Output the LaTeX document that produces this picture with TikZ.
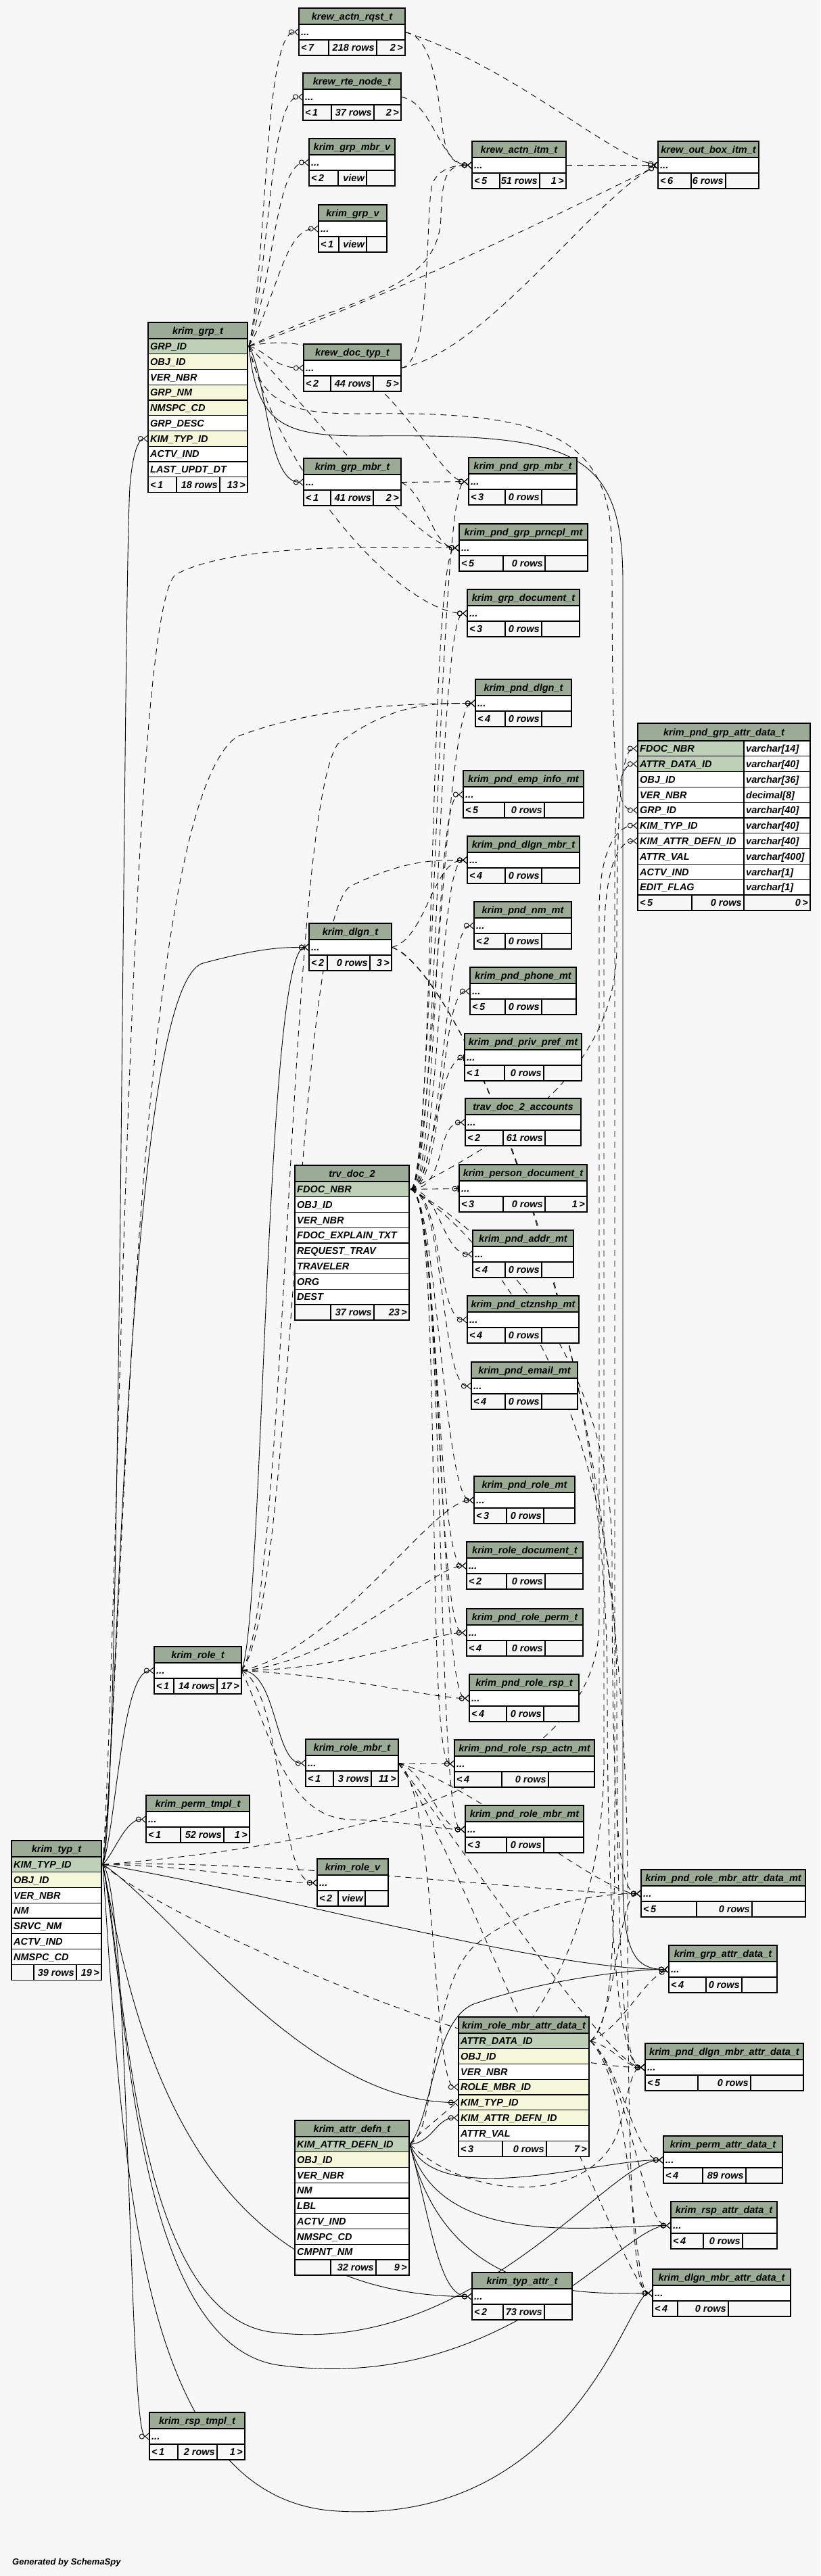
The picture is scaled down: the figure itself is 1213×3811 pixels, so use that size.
\documentclass[tikz,border=0pt]{standalone}
\usepackage{fontspec}
\setmainfont{Liberation Sans}
\usetikzlibrary{arrows.meta}
\definecolor{bgc}{HTML}{F7F7F7}
\definecolor{hdr}{HTML}{9BAB96}
\definecolor{pkc}{HTML}{BED1B8}
\definecolor{idx}{HTML}{F4F7DA}
\pgfdeclarelayer{bglayer}
\pgfdeclarelayer{edgelayer}
\pgfsetlayers{bglayer,edgelayer,main}
\newcommand\tabfont{\fontsize{14.5}{16}\selectfont\bfseries\itshape}
\tikzset{
 box/.style={line width=1.1pt},
 cell/.style={font=\tabfont, inner sep=0pt, text height=10.5pt, text depth=0pt},
 dep/.style={line width=0.9pt, dash pattern=on 9pt off 7pt, -{Circle[open,length=8pt,width=8pt]Straight Barb[reversed,length=6pt,width=10pt]}},
 fk/.style={line width=0.9pt, -{Circle[open,length=8pt,width=8pt]Straight Barb[reversed,length=6pt,width=10pt]}},
 depone/.style={line width=0.9pt, dash pattern=on 9pt off 7pt, -{Circle[open,length=8pt,width=8pt]Bar[width=10pt,line width=2.5pt]}},
}
% simple table: name x1 y1 x2 title
\newcommand\stab[5]{%
 \fill[hdr] (#2,#3) rectangle (#4,#3+24);
 \fill[white] (#2,#3+24) rectangle (#4,#3+47);
 \fill[bgc] (#2,#3+47) rectangle (#4,#3+70);
 \draw[box] (#2,#3+24) -- (#4,#3+24) (#2,#3+47) -- (#4,#3+47);
 \draw[box] (#2,#3) rectangle (#4,#3+70);
 \node[cell] (#1) at ({(#2+#4)/2},#3+12) {#5};
 \node[cell,anchor=west] (#1-dots) at (#2+3,#3+35.5) {...};
 \coordinate (#1-in) at (#2,#3+35.5);
 \coordinate (#1-out) at (#4,#3+35.5);
 \gdef\curx{#2}\gdef\cury{#3}\gdef\curxx{#4}}
% footer: name d1 d2 L M R
\newcommand\sfoot[6]{%
 \draw[box] (#2,\cury+47) -- (#2,\cury+70) (#3,\cury+47) -- (#3,\cury+70);
 \node[cell,anchor=west] (#1-fl) at (\curx+3,\cury+58.5) {#4};
 \node[cell,anchor=east] (#1-fm) at (#3-3,\cury+58.5) {#5};
 \node[cell,anchor=east] (#1-fr) at (\curxx-3,\cury+58.5) {#6};}
% detailed table: name x1 y1 x2 n title rows
\newcommand\dtab[7]{%
 \pgfmathsetmacro\curfy{#3+24+#5*22.75}
 \fill[hdr] (#2,#3) rectangle (#4,#3+24);
 \fill[bgc] (#2,\curfy) rectangle (#4,\curfy+23);
 \foreach \cf/\tx [count=\ri] in {#7} {
   \fill[fill=\cf] (#2,{#3+24+(\ri-1)*22.75}) rectangle (#4,{#3+24+\ri*22.75});
   \node[cell,anchor=west] (#1-r\ri) at (#2+3,{#3+24+(\ri-0.5)*22.75}) {\tx};
 }
 \foreach \ri in {1,...,#5} {\draw[box] (#2,{#3+24+(\ri-1)*22.75}) -- (#4,{#3+24+(\ri-1)*22.75});}
 \draw[box] (#2,\curfy) -- (#4,\curfy);
 \draw[box] (#2,#3) rectangle (#4,\curfy+23);
 \node[cell] (#1) at ({(#2+#4)/2},#3+12) {#6};
 \pgfmathsetmacro\cury{\curfy-47}
 \gdef\curx{#2}\gdef\curxx{#4}}
\begin{document}
\begin{tikzpicture}[x=1pt,y=-1pt]
\begin{pgfonlayer}{bglayer}
\fill[bgc] (0,0) rectangle (1213,3811);
\end{pgfonlayer}
\useasboundingbox (0,0) rectangle (1213,3811);

% ---------- simple tables ----------
\stab{krewRqst}{442}{12}{599}{krew\_actn\_rqst\_t}\sfoot{krewRqst}{486}{557}{<\,7}{218 rows}{2\,>}
\stab{krewRte}{448}{108}{593}{krew\_rte\_node\_t}\sfoot{krewRte}{490}{553}{<\,1}{37 rows}{2\,>}
\stab{grpMbrV}{457}{205}{584}{krim\_grp\_mbr\_v}\sfoot{grpMbrV}{500}{542}{<\,2}{view}{}
\stab{grpV}{471}{303}{572}{krim\_grp\_v}\sfoot{grpV}{501}{542}{<\,1}{view}{}
\stab{docTyp}{449}{509}{593}{krew\_doc\_typ\_t}\sfoot{docTyp}{489}{552}{<\,2}{44 rows}{5\,>}
\stab{grpMbr}{449}{678}{593}{krim\_grp\_mbr\_t}\sfoot{grpMbr}{489}{552}{<\,1}{41 rows}{2\,>}
\stab{actnItm}{698}{209}{837}{krew\_actn\_itm\_t}\sfoot{actnItm}{739}{798}{<\,5}{51 rows}{1\,>}
\stab{outBox}{973}{209}{1122}{krew\_out\_box\_itm\_t}\sfoot{outBox}{1022}{1073}{<\,6}{6 rows}{}
\stab{pGrpMbr}{693}{677}{853}{krim\_pnd\_grp\_mbr\_t}\sfoot{pGrpMbr}{747}{801}{<\,3}{0 rows}{}
\stab{pGrpPrn}{679}{775}{869}{krim\_pnd\_grp\_prncpl\_mt}\sfoot{pGrpPrn}{744}{806}{<\,5}{0 rows}{}
\stab{grpDoc}{691}{872}{857}{krim\_grp\_document\_t}\sfoot{grpDoc}{747}{801}{<\,3}{0 rows}{}
\stab{pDlgn}{703}{1005}{845}{krim\_pnd\_dlgn\_t}\sfoot{pDlgn}{747}{801}{<\,4}{0 rows}{}
\stab{pEmp}{685}{1140}{863}{krim\_pnd\_emp\_info\_mt}\sfoot{pEmp}{746}{805}{<\,5}{0 rows}{}
\stab{pDlgnMbr}{691}{1237}{857}{krim\_pnd\_dlgn\_mbr\_t}\sfoot{pDlgnMbr}{747}{801}{<\,4}{0 rows}{}
\stab{pNm}{701}{1334}{845}{krim\_pnd\_nm\_mt}\sfoot{pNm}{747}{801}{<\,2}{0 rows}{}
\stab{pPhone}{695}{1431}{852}{krim\_pnd\_phone\_mt}\sfoot{pPhone}{747}{801}{<\,5}{0 rows}{}
\stab{pPriv}{687}{1529}{860}{krim\_pnd\_priv\_pref\_mt}\sfoot{pPriv}{746}{804}{<\,1}{0 rows}{}
\stab{trvAcc}{688}{1625}{859}{trav\_doc\_2\_accounts}\sfoot{trvAcc}{744}{806}{<\,2}{61 rows}{}
\stab{persDoc}{679}{1723}{868}{krim\_person\_document\_t}\sfoot{persDoc}{744}{806}{<\,3}{0 rows}{1\,>}
\stab{pAddr}{699}{1820}{848}{krim\_pnd\_addr\_mt}\sfoot{pAddr}{747}{801}{<\,4}{0 rows}{}
\stab{pCtz}{691}{1917}{856}{krim\_pnd\_ctznshp\_mt}\sfoot{pCtz}{747}{801}{<\,4}{0 rows}{}
\stab{pEmail}{697}{2015}{854}{krim\_pnd\_email\_mt}\sfoot{pEmail}{747}{801}{<\,4}{0 rows}{}
\stab{pRole}{701}{2184}{850}{krim\_pnd\_role\_mt}\sfoot{pRole}{749}{804}{<\,3}{0 rows}{}
\stab{roleDoc}{690}{2281}{862}{krim\_role\_document\_t}\sfoot{roleDoc}{749}{806}{<\,2}{0 rows}{}
\stab{pRolePerm}{690}{2380}{862}{krim\_pnd\_role\_perm\_t}\sfoot{pRolePerm}{749}{806}{<\,4}{0 rows}{}
\stab{pRoleRsp}{694}{2477}{856}{krim\_pnd\_role\_rsp\_t}\sfoot{pRoleRsp}{749}{804}{<\,4}{0 rows}{}
\stab{pRspActn}{672}{2574}{879}{krim\_pnd\_role\_rsp\_actn\_mt}\sfoot{pRspActn}{742}{811}{<\,4}{0 rows}{}
\stab{pRoleMbr}{688}{2671}{863}{krim\_pnd\_role\_mbr\_mt}\sfoot{pRoleMbr}{749}{804}{<\,3}{0 rows}{}
\stab{dlgn}{457}{1366}{579}{krim\_dlgn\_t}\sfoot{dlgn}{484}{547}{<\,2}{0 rows}{3\,>}
\stab{role}{228}{2436}{357}{krim\_role\_t}\sfoot{role}{257}{321}{<\,1}{14 rows}{17\,>}
\stab{roleMbr}{452}{2573}{589}{krim\_role\_mbr\_t}\sfoot{roleMbr}{493}{549}{<\,1}{3 rows}{11\,>}
\stab{permTmpl}{216}{2656}{369}{krim\_perm\_tmpl\_t}\sfoot{permTmpl}{267}{331}{<\,1}{52 rows}{1\,>}
\stab{roleV}{469}{2750}{574}{krim\_role\_v}\sfoot{roleV}{500}{540}{<\,2}{view}{}
\stab{pRoleMbrAttr}{948}{2766}{1191}{krim\_pnd\_role\_mbr\_attr\_data\_mt}\sfoot{pRoleMbrAttr}{1030}{1112}{<\,5}{0 rows}{}
\stab{grpAttr}{989}{2878}{1149}{krim\_grp\_attr\_data\_t}\sfoot{grpAttr}{1044}{1097}{<\,4}{0 rows}{}
\stab{pDlgnMbrAttr}{954}{3023}{1188}{krim\_pnd\_dlgn\_mbr\_attr\_data\_t}\sfoot{pDlgnMbrAttr}{1032}{1110}{<\,5}{0 rows}{}
\stab{permAttr}{981}{3160}{1157}{krim\_perm\_attr\_data\_t}\sfoot{permAttr}{1039}{1103}{<\,4}{89 rows}{}
\stab{rspAttr}{992}{3257}{1149}{krim\_rsp\_attr\_data\_t}\sfoot{rspAttr}{1040}{1098}{<\,4}{0 rows}{}
\stab{typAttr}{698}{3362}{846}{krim\_typ\_attr\_t}\sfoot{typAttr}{744}{805}{<\,2}{73 rows}{}
\stab{dlgnMbrAttr}{965}{3357}{1169}{krim\_dlgn\_mbr\_attr\_data\_t}\sfoot{dlgnMbrAttr}{1002}{1077}{<\,4}{0 rows}{}
\stab{rspTmpl}{221}{3569}{362}{krim\_rsp\_tmpl\_t}\sfoot{rspTmpl}{263}{321}{<\,1}{2 rows}{1\,>}

% ---------- detailed tables ----------
\dtab{grp}{219}{477}{366}{9}{krim\_grp\_t}{pkc/GRP\_ID, idx/OBJ\_ID, white/VER\_NBR, idx/GRP\_NM, idx/NMSPC\_CD, white/GRP\_DESC, idx/KIM\_TYP\_ID, white/ACTV\_IND, white/LAST\_UPDT\_DT}
\sfoot{grp}{261}{325}{<\,1}{18 rows}{13\,>}
\dtab{trv}{436}{1724}{605}{8}{trv\_doc\_2}{pkc/FDOC\_NBR, white/OBJ\_ID, white/VER\_NBR, white/FDOC\_EXPLAIN\_TXT, white/REQUEST\_TRAV, white/TRAVELER, white/ORG, white/DEST}
\sfoot{trv}{489}{553}{}{37 rows}{23\,>}
\dtab{typ}{17}{2723}{150}{7}{krim\_typ\_t}{pkc/KIM\_TYP\_ID, idx/OBJ\_ID, white/VER\_NBR, white/NM, white/SRVC\_NM, white/ACTV\_IND, white/NMSPC\_CD}
\sfoot{typ}{50}{113}{}{39 rows}{19\,>}
\dtab{rmad}{678}{2984}{871}{7}{krim\_role\_mbr\_attr\_data\_t}{pkc/ATTR\_DATA\_ID, idx/OBJ\_ID, white/VER\_NBR, idx/ROLE\_MBR\_ID, idx/KIM\_TYP\_ID, idx/KIM\_ATTR\_DEFN\_ID, white/ATTR\_VAL}
\sfoot{rmad}{743}{808}{<\,3}{0 rows}{7\,>}
\dtab{adef}{436}{3137}{605}{8}{krim\_attr\_defn\_t}{pkc/KIM\_ATTR\_DEFN\_ID, idx/OBJ\_ID, white/VER\_NBR, white/NM, white/LBL, white/ACTV\_IND, white/NMSPC\_CD, white/CMPNT\_NM}
\sfoot{adef}{489}{556}{}{32 rows}{9\,>}

% ---------- focus table krim_pnd_grp_attr_data_t ----------
\fill[hdr] (943,1070) rectangle (1198,1096);
\fill[bgc] (943,1324) rectangle (1198,1347);
\foreach \cf/\tx/\ty [count=\ri] in {pkc/FDOC\_NBR/{varchar[14]}, pkc/ATTR\_DATA\_ID/{varchar[40]}, white/OBJ\_ID/{varchar[36]}, white/VER\_NBR/{decimal[8]}, white/GRP\_ID/{varchar[40]}, white/KIM\_TYP\_ID/{varchar[40]}, white/KIM\_ATTR\_DEFN\_ID/{varchar[40]}, white/ATTR\_VAL/{varchar[400]}, white/ACTV\_IND/{varchar[1]}, white/EDIT\_FLAG/{varchar[1]}} {
  \fill[fill=\cf] (943,{1096+(\ri-1)*22.8}) rectangle (1100,{1096+\ri*22.8});
  \fill[white] (1100,{1096+(\ri-1)*22.8}) rectangle (1198,{1096+\ri*22.8});
  \node[cell,anchor=west] (pgad-r\ri) at (946,{1096+(\ri-0.5)*22.8}) {\tx};
  \node[cell,anchor=west] (pgad-t\ri) at (1103,{1096+(\ri-0.5)*22.8}) {\ty};
}
\foreach \ri in {0,...,10} {\draw[box] (943,{1096+\ri*22.8}) -- (1198,{1096+\ri*22.8});}
\draw[box] (1100,1096) -- (1100,1347) (1023,1324) -- (1023,1347);
\draw[line width=2.6pt] (943,1070) rectangle (1198,1347);
\node[cell] (pgad) at (1070.5,1083) {krim\_pnd\_grp\_attr\_data\_t};
\node[cell,anchor=west] (pgad-fl) at (946,1335.5) {<\,5};
\node[cell,anchor=east] (pgad-fm) at (1097,1335.5) {0 rows};
\node[cell,anchor=east] (pgad-fr) at (1195,1335.5) {0\,>};

\node[font=\fontsize{13}{15}\selectfont\bfseries\itshape,anchor=west,inner sep=0pt] (gen) at (18,3791) {Generated by SchemaSpy};

% ---------- connector end points ----------
\coordinate (grpPK) at (368,512);
\coordinate (grpKT) at (219,648.9);
\coordinate (typPK) at (152,2758.4);
\coordinate (trvPK) at (607,1759.4);
\coordinate (adefPK) at (606,3172.4);
\coordinate (rmadPK) at (873,3019.4);
\coordinate (rmad-rm) at (678,3087.6);
\coordinate (rmad-kt) at (678,3110.4);
\coordinate (rmad-kad) at (678,3133.1);
\coordinate (pgad-fdoc) at (943,1107.4);
\coordinate (pgad-attr) at (943,1130.2);
\coordinate (pgad-grp) at (943,1198.6);
\coordinate (pgad-kt) at (943,1221.4);
\coordinate (pgad-kad) at (943,1244.2);

\begin{pgfonlayer}{edgelayer}
% krim_grp_t
\draw[dep] (grpPK) .. controls (396,380) and (390,47) .. (krewRqst-in);
\draw[dep] (grpPK) .. controls (400,390) and (398,143) .. (krewRte-in);
\draw[dep] (grpPK) .. controls (405,410) and (408,240) .. (grpMbrV-in);
\draw[dep] (grpPK) .. controls (410,440) and (420,338) .. (grpV-in);
\draw[dep] (grpPK) .. controls (395,520) and (405,544) .. (docTyp-in);
\draw[fk]  (grpPK) .. controls (395,560) and (395,713) .. (grpMbr-in);
\draw[dep] (grpPK) .. controls (520,440) and (650,430) .. (652,320) .. controls (654,260) and (660,244) .. (actnItm-in);
\draw[dep] (grpPK) .. controls (600,430) and (860,300) .. (outBox-in);
\draw[dep] (grpPK) .. controls (560,470) and (640,712) .. (pGrpMbr-in);
\draw[dep] (grpPK) .. controls (470,620) and (620,810) .. (pGrpPrn-in);
\draw[dep] (grpPK) .. controls (420,720) and (600,907) .. (grpDoc-in);
\draw[dep] (grpPK) .. controls (385,600) and (430,613) .. (540,612) .. controls (820,608) and (905,650) .. (905,820) .. controls (905,1150) and (910,1198.6) .. (pgad-grp);
\draw[fk]  (grpPK) .. controls (380,630) and (420,645) .. (540,645) .. controls (840,642) and (921,660) .. (921,860) -- (921,2780) .. controls (921,2890) and (940,2913.5) .. (grpAttr-in);
% krew
\draw[dep] (krewRqst-out) .. controls (650,55) and (648,180) .. (660,220) .. controls (668,240) and (680,244) .. (actnItm-in);
\draw[dep] (krewRqst-out) .. controls (760,100) and (900,230) .. (outBox-in);
\draw[dep] (krewRte-out) .. controls (640,150) and (650,244) .. (actnItm-in);
\draw[dep] (actnItm-out) -- (outBox-in);
\draw[dep] (docTyp-out) .. controls (720,520) and (880,290) .. (outBox-in);
\draw[dep] (docTyp-out) .. controls (640,540) and (628,300) .. (640,270) .. controls (650,250) and (670,244) .. (actnItm-in);
\draw[dep] (grpMbr-out) -- (pGrpMbr-in);
\draw[dep] (grpMbr-out) .. controls (630,730) and (640,810.5) .. (pGrpPrn-in);
% trv_doc_2
\foreach \tn/\cx in {pGrpMbr/640, pGrpPrn/643, grpDoc/646, pDlgn/636, pEmp/649, pDlgnMbr/652, pNm/655, pPhone/658, trvAcc/661, pAddr/650, pCtz/653, pEmail/656, pRole/645, roleDoc/648, pRolePerm/651, pRoleRsp/654, pRspActn/657, pRoleMbr/660}
  {\draw[dep] (trvPK) .. controls (\cx,1760) and ([xshift=-45pt]\tn-in) .. (\tn-in);}
\draw[depone] (trvPK) .. controls (640,1760) and (645,1564.5) .. (pPriv-in);
\draw[depone] (trvPK) -- (persDoc-in);
\draw[dep] (trvPK) .. controls (720,1700) and (912,1600) .. (912,1400) .. controls (912,1200) and (918,1107.4) .. (pgad-fdoc);
\draw[dep] (trvPK) .. controls (720,1820) and (905,2000) .. (905,2300) .. controls (905,2700) and (915,2801.5) .. (pRoleMbrAttr-in);
\draw[dep] (trvPK) .. controls (740,1840) and (912,2100) .. (912,2500) .. controls (912,2950) and (925,3058.5) .. (pDlgnMbrAttr-in);
% krim_role_t
\draw[fk]  (role-out) .. controls (410,2471) and (405,2608.5) .. (roleMbr-in);
\draw[fk]  (role-out) .. controls (390,2400) and (392,1401.5) .. (dlgn-in);
\draw[dep] (role-out) .. controls (425,2380) and (425,1200) .. (500,1100) .. controls (580,1040) and (640,1040.5) .. (pDlgn-in);
\draw[dep] (role-out) .. controls (435,2380) and (435,1350) .. (520,1310) .. controls (600,1272) and (640,1272.5) .. (pDlgnMbr-in);
\draw[dep] (role-out) .. controls (500,2440) and (640,2219.5) .. (pRole-in);
\draw[dep] (role-out) .. controls (500,2460) and (640,2316.5) .. (roleDoc-in);
\draw[dep] (role-out) .. controls (520,2470) and (640,2415.5) .. (pRolePerm-in);
\draw[dep] (role-out) .. controls (520,2480) and (640,2512.5) .. (pRoleRsp-in);
\draw[dep] (role-out) .. controls (420,2500) and (410,2785.5) .. (roleV-in);
\draw[dep] (role-out) .. controls (400,2560) and (420,2690) .. (520,2692) .. controls (600,2694) and (650,2706.5) .. (pRoleMbr-in);
% krim_role_mbr_t
\draw[dep] (roleMbr-out) -- (pRspActn-in);
\draw[dep] (roleMbr-out) .. controls (630,2620) and (650,2706.5) .. (pRoleMbr-in);
\draw[dep] (roleMbr-out) .. controls (645,2640) and (640,3087.6) .. (rmad-rm);
\draw[dep] (roleMbr-out) .. controls (700,2640) and (890,2801.5) .. (pRoleMbrAttr-in);
\draw[dep] (roleMbr-out) .. controls (660,2700) and (900,3058.5) .. (pDlgnMbrAttr-in);
\draw[dep] (roleMbr-out) .. controls (670,2720) and (930,3392.5) .. (dlgnMbrAttr-in);
% krim_dlgn_t
\draw[dep] (dlgn-out) .. controls (630,1390) and (640,1272.5) .. (pDlgnMbr-in);
\draw[dep] (dlgn-out) .. controls (660,1420) and (898,1900) .. (898,2500) .. controls (898,2950) and (925,3058.5) .. (pDlgnMbrAttr-in);
\draw[dep] (dlgn-out) .. controls (670,1430) and (928,1950) .. (928,2800) .. controls (928,3300) and (940,3392.5) .. (dlgnMbrAttr-in);
% krim_attr_defn_t
\draw[fk]  (adefPK) .. controls (640,3170) and (645,3133.1) .. (rmad-kad);
\draw[dep] (adefPK) .. controls (700,3260) and (880,3260) .. (915,3150) .. controls (930,3090) and (935,3058.5) .. (pDlgnMbrAttr-in);
\draw[fk]  (adefPK) .. controls (650,3270) and (880,3195.5) .. (permAttr-in);
\draw[fk]  (adefPK) .. controls (650,3330) and (880,3292.5) .. (rspAttr-in);
\draw[fk]  (adefPK) .. controls (660,3410) and (880,3392.5) .. (dlgnMbrAttr-in);
\draw[fk]  (adefPK) .. controls (640,3300) and (650,3397.5) .. (typAttr-in);
\draw[fk]  (adefPK) .. controls (640,3130) and (640,2990) .. (700,2965) .. controls (800,2930) and (930,2913.5) .. (grpAttr-in);
\draw[dep] (adefPK) .. controls (650,3150) and (630,2950) .. (700,2880) .. controls (780,2810) and (900,2801.5) .. (pRoleMbrAttr-in);
\draw[dep] (adefPK) .. controls (645,3120) and (893,3000) .. (893,2600) -- (893,1400) .. controls (893,1280) and (915,1244.2) .. (pgad-kad);
% krim_role_mbr_attr_data_t
\draw[dep] (rmadPK) .. controls (920,3000) and (950,2930) .. (grpAttr-in);
\draw[dep] (rmadPK) .. controls (910,3030) and (925,3058.5) .. (pDlgnMbrAttr-in);
\draw[dep] (rmadPK) .. controls (920,3060) and (940,3195.5) .. (permAttr-in);
\draw[dep] (rmadPK) .. controls (930,3070) and (950,3292.5) .. (rspAttr-in);
\draw[dep] (rmadPK) .. controls (940,3090) and (935,3392.5) .. (dlgnMbrAttr-in);
\draw[dep] (rmadPK) .. controls (910,2990) and (915,2801.5) .. (pRoleMbrAttr-in);
\draw[dep] (rmadPK) .. controls (902,3000) and (909,2900) .. (909,2700) -- (909,1300) .. controls (909,1180) and (915,1130.2) .. (pgad-attr);
% krim_typ_t
\draw[fk]  (typPK) .. controls (178,2700) and (182,900) .. (192,720) .. controls (196,670) and (205,648.9) .. (grpKT);
\draw[fk]  (typPK) .. controls (172,2700) and (180,2471.5) .. (role-in);
\draw[fk]  (typPK) .. controls (170,2740) and (185,2691.5) .. (permTmpl-in);
\draw[fk]  (typPK) .. controls (192,2800) and (190,3604.5) .. (rspTmpl-in);
\draw[fk]  (typPK) .. controls (175,2600) and (185,1460) .. (300,1425) .. controls (390,1401) and (420,1401.5) .. (dlgn-in);
\draw[dep] (typPK) .. controls (186,2400) and (195,1200) .. (350,1090) .. controls (480,1040) and (640,1040.5) .. (pDlgn-in);
\draw[dep] (typPK) .. controls (176,2400) and (188,900) .. (260,850) .. controls (350,800) and (600,810.5) .. (pGrpPrn-in);
\draw[fk]  (typPK) .. controls (400,2800) and (800,2913.5) .. (grpAttr-in);
\draw[dep] (typPK) .. controls (400,2750) and (820,2801.5) .. (pRoleMbrAttr-in);
\draw[dep] (typPK) .. controls (300,2745) and (886,2700) .. (886,2400) -- (886,1350) .. controls (886,1250) and (915,1221.4) .. (pgad-kt);
\draw[fk]  (typPK) .. controls (250,2820) and (450,3110.4) .. (rmad-kt);
\draw[dep] (typPK) .. controls (260,2850) and (750,3058.5) .. (pDlgnMbrAttr-in);
\draw[fk]  (typPK) .. controls (185,2900) and (190,3420) .. (400,3450) .. controls (700,3490) and (900,3195.5) .. (permAttr-in);
\draw[fk]  (typPK) .. controls (188,2950) and (195,3480) .. (420,3500) .. controls (750,3540) and (920,3292.5) .. (rspAttr-in);
\draw[fk]  (typPK) .. controls (182,3200) and (200,3700) .. (500,3715) .. controls (850,3735) and (930,3392.5) .. (dlgnMbrAttr-in);
\draw[fk]  (typPK) .. controls (190,2950) and (260,3397.5) .. (typAttr-in);
\draw[dep] (typPK) .. controls (300,2760) and (400,2785.5) .. (roleV-in);
\end{pgfonlayer}
\end{tikzpicture}
\end{document}
